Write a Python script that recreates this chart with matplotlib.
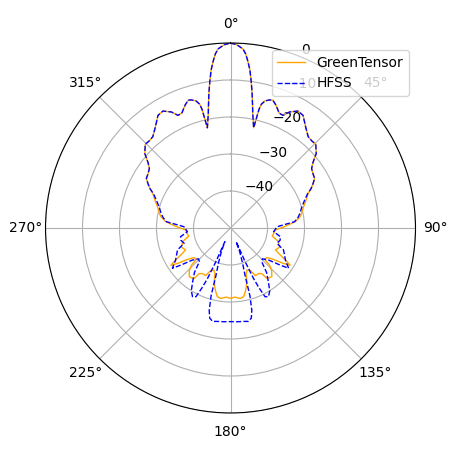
import numpy as np
import matplotlib
matplotlib.use('Agg')
import matplotlib.pyplot as plt


# half pattern (0..180 deg), the other half is the mirror image
theta_gt = [0, 2, 4, 5, 6, 7, 8, 9, 10, 11, 12, 13, 13.5, 14, 15.2, 17, 18.3, 20.3, 23, 25,
            27, 30, 32.8, 36.7, 40.4, 43, 45.5, 49, 51.5, 53.7, 56.5, 59.5, 62, 64, 66, 70,
            74, 78, 81, 84.4, 88.4, 92.6, 97, 101, 105.9, 109, 111, 116, 118.5, 120.8, 122,
            124, 126, 129, 132.5, 133.5, 136, 139.5, 142, 144.3, 145.5, 148, 152.5, 155,
            158.5, 161, 163, 165, 167, 169.2, 172, 174, 176.5, 178.5, 180]
gt_db = [0, -0.45, -1.5, -2.8, -4.8, -7, -9.9, -12.8, -15.8, -18.5, -20.5, -22.2, -17, -15.5,
         -14.4, -13.8, -13.6, -14.6, -16.3, -16.4, -14.8, -13.5, -13.8, -16, -17.6, -17.8,
         -17.7, -19.3, -21.5, -22.8, -23.3, -23.6, -24.8, -25.8, -27, -28.3, -29.5, -30.3,
         -31, -32.4, -35.3, -37.9, -38.2, -38.5, -36.5, -36.2, -35.7, -36.5, -34.7, -32.2,
         -31, -33, -35.5, -37.3, -37.5, -35.5, -34, -32.8, -32.9, -33.3, -35, -35.5, -35.5,
         -37.3, -37.8, -37, -35, -33.5, -32.3, -31.1, -30.8, -31, -31.3, -31.1, -31]

theta_hfss = [0, 2, 4, 5, 6, 7, 8, 9, 10, 11, 12, 13, 13.5, 14, 15.2, 17, 18.3, 20.3, 23, 25,
              27, 30, 32.8, 36.7, 40.4, 43, 45.5, 49, 51.5, 53.7, 56.5, 59.5, 62, 64, 66, 70,
              74, 78, 81, 84.4, 88.4, 94.9, 99.9, 104, 108.2, 112.5, 116, 120.3, 124.7, 126.8,
              130, 134, 137.2, 141, 144.9, 148, 151, 153.3, 154.5, 155.5, 156.5, 157.5, 159,
              161, 163, 164, 165.5, 167, 169.2, 172, 176, 180]
hfss_db = [0, -0.45, -1.5, -2.8, -4.8, -7, -9.9, -12.8, -15.8, -18.5, -20.5, -22.2, -17, -15.5,
           -14.4, -13.8, -13.6, -14.6, -16.3, -16.4, -14.8, -13.5, -13.8, -16, -17.6, -17.8,
           -17.7, -19.3, -21.5, -22.8, -23.3, -23.6, -24.8, -25.8, -27.2, -28.8, -30, -30.8,
           -31.5, -32.6, -37.4, -38.3, -36.3, -36.2, -36.8, -34.5, -33.8, -32.8, -30.9, -33.3,
           -36.5, -38, -37.6, -34.5, -32.2, -30, -28.8, -29.2, -32, -35, -40, -46, -43, -40,
           -36.5, -31, -27, -25, -24.3, -24.5, -24.6, -24.7]


def full_circle(theta_half, values_half):
    th = np.array(theta_half, dtype=float)
    v = np.array(values_half, dtype=float)
    th_full = np.concatenate([th, 360 - th[::-1][1:]])
    v_full = np.concatenate([v, v[::-1][1:]])
    return np.deg2rad(th_full), v_full


th1, r1 = full_circle(theta_gt, gt_db)
th2, r2 = full_circle(theta_hfss, hfss_db)

fig = plt.figure(figsize=(4.57, 4.57), dpi=100)
ax = fig.add_axes([0.0996, 0.0963, 0.8096, 0.8096], projection='polar')
ax.set_theta_zero_location('N')
ax.set_theta_direction(-1)

ax.plot(th1, r1, color='orange', lw=1, label='GreenTensor')
ax.plot(th2, r2, color='blue', lw=1, linestyle='--', label='HFSS')

ax.set_rlim(-50, 0)
ax.set_rticks([-40, -30, -20, -10, 0])
ax.legend(loc='upper right')

plt.savefig('out.png', dpi=100)
